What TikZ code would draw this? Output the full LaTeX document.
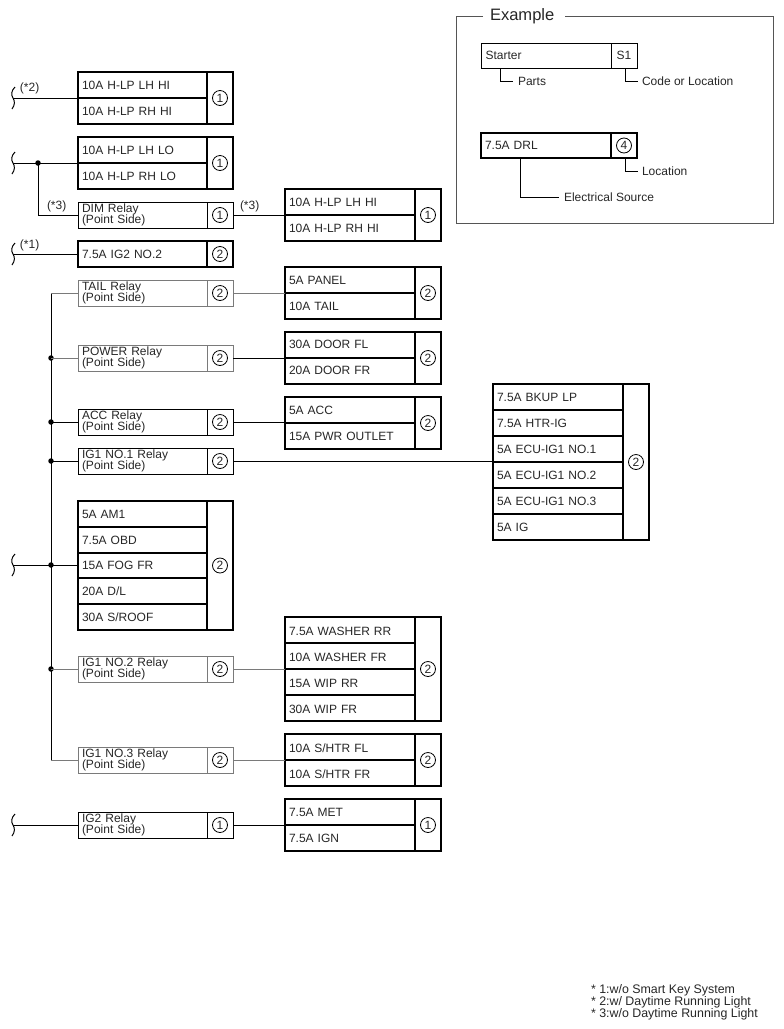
\documentclass[tikz,border=0pt]{standalone}
\usepackage{fontspec}
\setmainfont{Liberation Sans}
\def\px{0.75pt}
\def\rw{129}
\def\pitch{26}
\def\tshift{0}
\definecolor{ghost}{HTML}{7A7A7A}
\definecolor{framegrey}{HTML}{555555}
\tikzset{
  base/.style={rectangle,outer sep=0pt,inner sep=0pt},
  txt/.style={base,font=\fontsize{9}{10}\selectfont,text=black!85},
  rowbox/.style={txt,draw,line width=1.5pt,anchor=north west,minimum width=\rw*\px,minimum height=\pitch*\px,
     text width=(\rw-8)*\px,align=left,text height=(8.6+2*\tshift)*\px,text depth=0pt},
  locbox/.style={base,draw,line width=1.5pt,anchor=north west,minimum width=26*\px},
  outerbox/.style={base,anchor=north west,minimum width=(\rw+26)*\px},
  relaybox/.style={txt,draw,line width=0.75pt,anchor=north west,minimum width=129*\px,minimum height=26*\px,
     text width=121*\px,align=left},
  relayloc/.style={base,draw,line width=0.75pt,anchor=north west,minimum width=26*\px,minimum height=26*\px},
  num/.style={circle,draw,line width=0.6pt,inner sep=0pt,minimum size=15*\px,font=\fontsize{9}{10}\selectfont,text=black!85},
  wire/.style={line width=0.75pt},
  ghostwire/.style={line width=0.75pt,color=ghost},
  joint/.style={circle,fill=black,inner sep=0pt,minimum size=5.5*\px},
  lbl/.style={txt,anchor=west},
  notelbl/.style={lbl,font=\fontsize{9.3}{10}\selectfont},
  brk/.style={line width=0.75pt},
}
% name, x, y, digit, rows
\newcommand{\fuses}[5]{%
  \foreach \t [count=\i from 0] in {#5} {
    \node[rowbox] (#1r\i) at (#2,#3+\pitch*\i) {\t};
    \xdef\rowsN{\i}
  }
  \pgfmathsetmacro{\hh}{\pitch*(\rowsN+1)}
  \node[outerbox,minimum height=\hh*\px] (#1) at (#2,#3) {};
  \node[locbox,minimum height=\hh*\px] (#1L) at (#2+\rw,#3) {};
  \node[num] (#1N) at (#1L.center) {#4};
}
% name, x, y, digit, first line, second, colour
\newcommand{\relay}[7]{%
  \node[relaybox,draw=#7] (#1T) at (#2,#3) {#5\\[-1.5pt]#6};
  \node[relayloc,draw=#7] (#1L) at (#2+129,#3) {};
  \node[num] (#1N) at (#1L.center) {#4};
  \coordinate (#1W) at (#1T.west);
  \coordinate (#1E) at (#1L.east);
}
\newcommand{\brkmark}[2]{%
  \coordinate (#1) at (13,#2);
  \draw[brk] (15,#2-11) .. controls (11,#2-7) and (11,#2-3) .. (13,#2) .. controls (15,#2+3) and (15,#2+7) .. (12,#2+11);
}
\begin{document}
\begin{tikzpicture}[x=0.75pt,y=-0.75pt]
\useasboundingbox (0,0) rectangle (783,1029);
% Example frame
\node[txt,font=\fontsize{12.4}{14}\selectfont,anchor=west] (extitle) at (490,16) {Example};
\coordinate (fa) at (483,16);
\coordinate (fb) at (456,16);
\coordinate (fc) at (456,223);
\coordinate (fd) at (773,223);
\coordinate (fe) at (773,16);
\coordinate (ff) at (565,16);
\draw[framegrey,line width=0.75pt] (fa) -- (fb) -- (fc) -- (fd) -- (fe) -- (ff);
\node[relaybox,minimum height=25*\px,text height=8.6*\px,text depth=0pt,minimum width=130*\px] (exA) at (481,43) {Starter};
\node[relayloc,minimum height=25*\px,font=\fontsize{9}{10}\selectfont,text=black!85] (exB) at (611,43) {S1};
\def\rw{130}
\node[rowbox,minimum height=25*\px] (exC) at (481,133) {7.5A DRL};
\node[locbox,minimum height=25*\px] (exD) at (611,133) {};
\node[num] (exDN) at (exD.center) {4};
\node[lbl] (parts) at (518,81.5) {Parts};
\node[lbl] (code) at (642,81.5) {Code or Location};
\node[lbl] (loc) at (642,171.5) {Location};
\node[lbl] (src) at (564,197.5) {Electrical Source};
\coordinate (pa) at (500,68);
\coordinate (pb) at (625,68);
\coordinate (pc) at (625,158);
\coordinate (pd) at (520,158);
\coordinate (pae) at (513,81.5);
\coordinate (pbe) at (638,81.5);
\coordinate (pce) at (638,171.5);
\coordinate (pde) at (559,197.5);
\draw[wire] (pa) |- (pae);
\draw[wire] (pb) |- (pbe);
\draw[wire] (pc) |- (pce);
\draw[wire] (pd) |- (pde);

% Fuse blocks, left column
\def\rw{129}
\fuses{A}{78}{72}{1}{10A H-LP LH HI,10A H-LP RH HI}
\fuses{B}{78}{137}{1}{10A H-LP LH LO,10A H-LP RH LO}
\fuses{D}{78}{241}{2}{7.5A IG2 NO.2}
\def\pitch{25.8}
\fuses{J}{78}{501}{2}{5A AM1,7.5A OBD,15A FOG FR,20A D/L,30A S/ROOF}
\def\pitch{26}
% Fuse blocks, other columns
\def\rw{130}
\fuses{C}{285}{189}{1}{10A H-LP LH HI,10A H-LP RH HI}
\fuses{E}{285}{267}{2}{5A PANEL,10A TAIL}
\def\tshift{-0.5}
\fuses{F}{285}{332}{2}{30A DOOR FL,20A DOOR FR}
\def\tshift{0}
\fuses{G}{285}{397}{2}{5A ACC,15A PWR OUTLET}
\fuses{H}{493}{384}{2}{7.5A BKUP LP,7.5A HTR-IG,5A ECU-IG1 NO.1,5A ECU-IG1 NO.2,5A ECU-IG1 NO.3,5A IG}
\def\tshift{0.8}
\fuses{K}{285}{617}{2}{7.5A WASHER RR,10A WASHER FR,15A WIP RR,30A WIP FR}
\fuses{M}{285}{734}{2}{10A S/HTR FL,10A S/HTR FR}
\def\tshift{0}
\fuses{P}{285}{799}{1}{7.5A MET,7.5A IGN}

% Relays
\relay{dim}{78}{202}{1}{DIM Relay}{(Point Side)}{black}
\relay{tail}{78}{280}{2}{TAIL Relay}{(Point Side)}{ghost}
\relay{pow}{78}{345}{2}{POWER Relay}{(Point Side)}{ghost}
\relay{acc}{78}{409}{2}{ACC Relay}{(Point Side)}{black}
\relay{igA}{78}{448}{2}{IG1 NO.1 Relay}{(Point Side)}{black}
\relay{igB}{78}{656}{2}{IG1 NO.2 Relay}{(Point Side)}{ghost}
\relay{igC}{78}{747}{2}{IG1 NO.3 Relay}{(Point Side)}{ghost}
\relay{igT}{78}{812}{1}{IG2 Relay}{(Point Side)}{black}

% Breaks
\brkmark{b1}{98}
\brkmark{b2}{163}
\brkmark{b3}{254}
\brkmark{b4}{565}
\brkmark{b5}{825}

% Joints
\node[joint] (j0) at (38,163) {};
\node[joint] (j1) at (51,358) {};
\node[joint] (j2) at (51,422) {};
\node[joint] (j3) at (51,461) {};
\node[joint] (j4) at (51,565) {};
\node[joint] (j5) at (51,669) {};
\coordinate (dimc) at (38,215);
\coordinate (bt) at (51,293);
\coordinate (bb) at (51,760);

% Wires
\draw[wire] (b1) -- (A.west);
\draw[wire] (b2) -- (B.west);
\draw[wire] (j0.center) -- (dimc) -- (dimW);
\draw[wire] (dimE) -- (C.west);
\draw[wire] (b3) -- (D.west);
\draw[wire] (b4) -- (J.west |- b4);
\draw[wire] (b5) -- (igTW);
\draw[wire] (igTE) -- (P.west);
\draw[wire] (bt) -- (bb);
\draw[ghostwire] (bt) -- (tailW);
\draw[ghostwire] (bb) -- (igCW);
\draw[ghostwire] (tailE) -- (E.west);
\draw[ghostwire] (j1.center) -- (powW);
\draw[wire] (powE) -- (F.west);
\draw[wire] (j2.center) -- (accW);
\draw[wire] (accE) -- (G.west |- accE);
\draw[wire] (j3.center) -- (igAW);
\draw[wire] (igAE) -- (H.west |- igAE);
\draw[ghostwire] (j5.center) -- (igBW);
\draw[ghostwire] (igBE) -- (K.west);
\draw[ghostwire] (igCE) -- (M.west);

% Condition labels
\node[lbl] (n1) at (20,88.5) {(*2)};
\node[lbl] (n2) at (47,206) {(*3)};
\node[lbl] (n3) at (240,206) {(*3)};
\node[lbl] (n4) at (20,245) {(*1)};

% Notes
\node[notelbl] (f1) at (591,990) {* 1:w/o Smart Key System};
\node[notelbl] (f2) at (591,1002) {* 2:w/ Daytime Running Light};
\node[notelbl] (f3) at (591,1014) {* 3:w/o Daytime Running Light};
\end{tikzpicture}
\end{document}
